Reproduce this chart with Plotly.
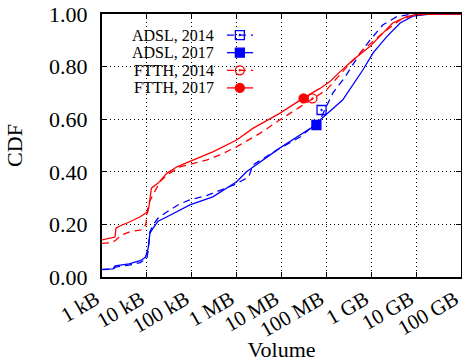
import plotly.graph_objects as go

# Transfer volume per user (bytes) and cumulative fraction, one pair of arrays per series
adsl_2014_vol = [1.0e3, 1.8e3, 2.0e3, 4.0e3, 7.1e3, 1.0e4, 1.07e4, 1.17e4, 1.38e4, 1.78e4,
                 2.82e4, 5.4e4, 9.1e4, 2.2e5, 8.7e5, 1.86e6, 2.3e6, 7.9e6, 2.6e7, 7.2e7,
                 1.4e8, 2.6e8, 5.6e8, 9.3e8, 1.8e9, 3.7e9, 8.5e9, 1.0e11]
adsl_2014_cdf = [0.028, 0.030, 0.038, 0.045, 0.055, 0.070, 0.100, 0.172, 0.198, 0.224,
                 0.248, 0.278, 0.293, 0.310, 0.350, 0.380, 0.426, 0.483, 0.532, 0.597,
                 0.700, 0.760, 0.850, 0.900, 0.958, 0.990, 1.000, 1.000]

adsl_2017_vol = [1.0e3, 1.76e3, 1.95e3, 4.0e3, 7.1e3, 9.3e3, 1.07e4, 1.17e4, 1.38e4, 1.78e4,
                 2.82e4, 9.1e4, 2.95e5, 1.0e6, 1.66e6, 2.0e6, 4.8e6, 9.1e6, 5.0e7, 7.2e7,
                 2.3e8, 6.5e8, 1.1e9, 2.2e9, 4.4e9, 8.5e9, 2.0e10, 1.0e11]
adsl_2017_cdf = [0.029, 0.031, 0.042, 0.050, 0.062, 0.075, 0.110, 0.167, 0.186, 0.212,
                 0.229, 0.274, 0.305, 0.362, 0.400, 0.410, 0.457, 0.490, 0.571, 0.597,
                 0.673, 0.787, 0.852, 0.913, 0.966, 0.992, 1.000, 1.000]

ftth_2014_vol = [1.0e3, 1.67e3, 2.0e3, 2.8e3, 4.2e3, 7.9e3, 9.5e3, 1.05e4, 1.17e4, 1.95e4,
                 2.8e4, 5.5e4, 2.2e5, 4.2e5, 1.0e6, 3.3e6, 9.1e6, 2.6e7, 1.0e8, 2.9e8,
                 6.5e8, 1.8e9, 4.4e9, 8.5e9, 2.0e10, 1.0e11]
ftth_2014_cdf = [0.128, 0.130, 0.140, 0.160, 0.172, 0.180, 0.200, 0.267, 0.290, 0.362,
                 0.388, 0.419, 0.445, 0.464, 0.495, 0.546, 0.597, 0.648, 0.711, 0.800,
                 0.863, 0.927, 0.977, 0.995, 1.000, 1.000]

ftth_2017_vol = [1.0e3, 1.95e3, 2.05e3, 2.5e3, 4.2e3, 7.1e3, 1.05e4, 1.12e4, 1.26e4, 1.78e4,
                 2.82e4, 4.7e4, 9.1e4, 2.95e5, 1.0e6, 2.3e6, 9.1e6, 3.0e7, 7.2e7, 1.2e8,
                 2.0e8, 3.9e8, 9.3e8, 1.8e9, 3.0e9, 6.2e9, 1.2e10, 1.0e11]
ftth_2017_cdf = [0.141, 0.152, 0.186, 0.194, 0.210, 0.229, 0.248, 0.270, 0.338, 0.357,
                 0.395, 0.419, 0.440, 0.476, 0.521, 0.565, 0.622, 0.679, 0.717, 0.743,
                 0.780, 0.825, 0.876, 0.927, 0.966, 0.990, 1.000, 1.000]

# Highlighted point on each curve
point_vol = {"ADSL, 2014": 7.8e7, "ADSL, 2017": 6.0e7, "FTTH, 2014": 4.9e7, "FTTH, 2017": 3.1e7}
point_cdf = {"ADSL, 2014": 0.635, "ADSL, 2017": 0.578, "FTTH, 2014": 0.679, "FTTH, 2017": 0.679}

tick_vals = [1e3, 1e4, 1e5, 1e6, 1e7, 1e8, 1e9, 1e10, 1e11]
tick_text = ["1 kB", "10 kB", "100 kB", "1 MB", "10 MB", "100 MB", "1 GB", "10 GB", "100 GB"]

BLUE = "#0000ff"
RED = "#ff0000"
DASH = "7px,5px"
FONT = "Liberation Serif"

series = [
    ("ADSL, 2014", adsl_2014_vol, adsl_2014_cdf, BLUE, DASH, "square-open-dot"),
    ("ADSL, 2017", adsl_2017_vol, adsl_2017_cdf, BLUE, "solid", "square"),
    ("FTTH, 2014", ftth_2014_vol, ftth_2014_cdf, RED, DASH, "circle-open-dot"),
    ("FTTH, 2017", ftth_2017_vol, ftth_2017_cdf, RED, "solid", "circle"),
]

fig = go.Figure()

for name, vol, cdf, color, dash, symbol in series:
    fig.add_trace(go.Scatter(
        x=vol, y=cdf, mode="lines", name=name,
        line=dict(color=color, width=1.3, dash=dash), showlegend=False,
    ))
    fig.add_trace(go.Scatter(
        x=[point_vol[name]], y=[point_cdf[name]], mode="markers",
        marker=dict(symbol=symbol, size=9, color=color, line=dict(color=color, width=1.3)),
        showlegend=False,
    ))

# Key: label on the left, line sample with its marker on the right
key_rows = [0.920, 0.853, 0.786, 0.719]
key_line_x = [0.348, 0.421]
key_mark_x = 0.384
key_text_x = 0.318

for (name, vol, cdf, color, dash, symbol), ry in zip(series, key_rows):
    fig.add_trace(go.Scatter(
        x=key_line_x, y=[ry, ry], mode="lines", xaxis="x2", yaxis="y2",
        line=dict(color=color, width=1.3, dash=dash), showlegend=False, hoverinfo="skip",
    ))
    fig.add_trace(go.Scatter(
        x=[key_mark_x], y=[ry], mode="markers", xaxis="x2", yaxis="y2",
        marker=dict(symbol=symbol, size=9, color=color, line=dict(color=color, width=1.3)),
        showlegend=False, hoverinfo="skip",
    ))
    fig.add_annotation(
        x=key_text_x, y=ry, xref="paper", yref="paper", text=name, showarrow=False,
        xanchor="right", yanchor="middle", font=dict(family=FONT, size=16, color="black"),
    )

# White panel behind the key hides the grid there
fig.add_shape(type="rect", xref="paper", yref="paper", x0=0.045, x1=0.448, y0=0.692, y1=0.951,
              fillcolor="white", line=dict(width=0), layer="between")

axis_common = dict(
    showline=True, linecolor="black", linewidth=2, mirror="ticks",
    ticks="inside", ticklen=5, tickcolor="black", tickwidth=1,
    showgrid=True, gridcolor="black", gridwidth=1, griddash="1px,3px",
    zeroline=False, ticklabeloverflow="allow", automargin=False,
)

fig.update_layout(
    width=462, height=362,
    margin=dict(l=102, r=1, t=14, b=85),
    paper_bgcolor="white", plot_bgcolor="white",
    font=dict(family=FONT, color="black"),
    xaxis=dict(
        type="log", range=[3, 11.0001], tickvals=tick_vals, ticktext=tick_text, tickangle=-30,
        tickfont=dict(family=FONT, size=21, color="black"), ticklabelshift=-6,
        title=dict(text="Volume", font=dict(family=FONT, size=22), standoff=2),
        **axis_common,
    ),
    yaxis=dict(
        range=[0, 1], tickvals=[0, 0.2, 0.4, 0.6, 0.8, 1.0], tickformat=".2f",
        tickfont=dict(family=FONT, size=22, color="black"), ticklabelstandoff=8,
        title=dict(text="CDF", font=dict(family=FONT, size=22), standoff=20),
        **axis_common,
    ),
    xaxis2=dict(overlaying="x", range=[0, 1], visible=False, fixedrange=True),
    yaxis2=dict(overlaying="y", range=[0, 1], visible=False, fixedrange=True),
)

fig.write_html("out.html")
